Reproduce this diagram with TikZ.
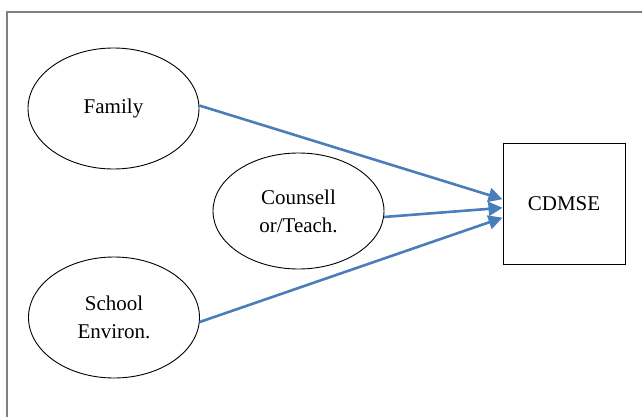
\documentclass[tikz,border=0pt]{standalone}
\usepackage{fontspec}
\setmainfont{Liberation Serif}
\usetikzlibrary{shapes.geometric, arrows.meta}
\definecolor{arrowblue}{RGB}{74,126,187}

\begin{document}
\begin{tikzpicture}[x=1pt, y=-1pt,
                    every node/.style={align=center, font=\fontsize{21}{28}\selectfont, inner sep=0pt},
                    factor/.style={draw, ellipse, line width=0.9pt, minimum width=171pt, minimum height=121pt},
                    outcome/.style={draw, rectangle, line width=1pt, minimum width=122pt, minimum height=121pt},
                    link/.style={draw=arrowblue, line width=2.6pt, -{Triangle[length=14pt, width=14pt]}}]
    \useasboundingbox (0,0) rectangle (642,417);
    % Frame
    \draw[gray, line width=1.2pt] (7,417) -- (7,12) -- (642,12);
    % Factors
    \node[factor] (fam) at (113.5,108.5) {Family};
    \node[factor, minimum height=116pt] (couns) at (298.5,211) {Counsell\\or/Teach.};
    \node[factor] (school) at (114,317.5) {School\\Environ.};
    % Outcome
    \node[outcome] (cdmse) at (564,203.5) {CDMSE};
    % Links
    \draw[link] (fam.2) -- (cdmse.176);
    \draw[link] (couns.-4) -- (cdmse.184);
    \draw[link] (school.-3) -- (cdmse.193);
\end{tikzpicture}
\end{document}
